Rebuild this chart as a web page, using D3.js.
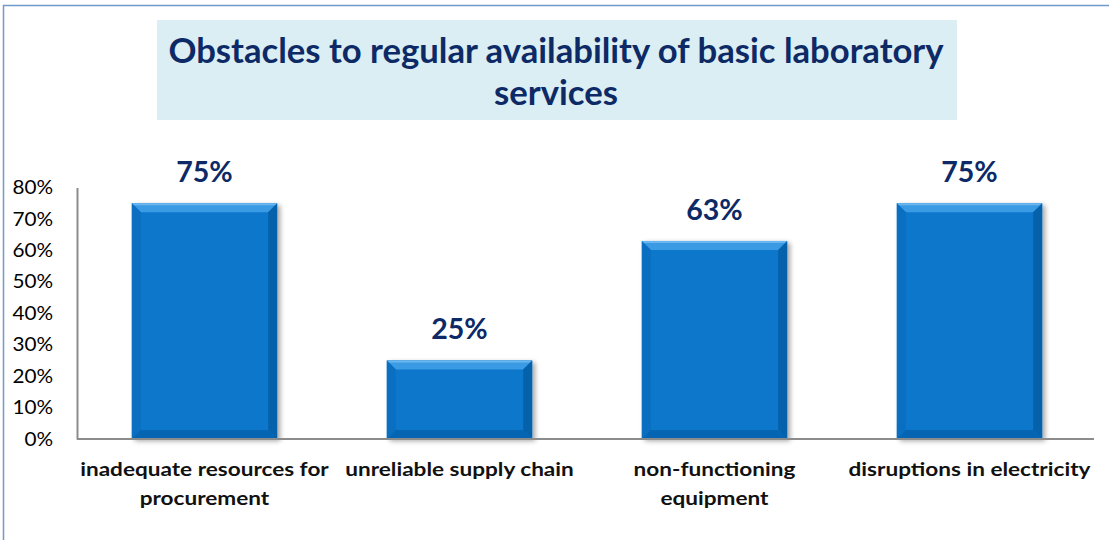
<!DOCTYPE html>
<html><head><meta charset="utf-8">
<script src="https://cdn.jsdelivr.net/npm/d3@7"></script>
<style>html,body{margin:0;padding:0;background:#fff;}svg{display:block;}</style>
</head><body>
<svg id="c" width="1109" height="540"></svg>
<script>
const categories = [["inadequate resources for","procurement"],["unreliable supply chain"],["non-functioning","equipment"],["disruptions in electricity"]];
const values = [0.75, 0.25, 0.63, 0.75];
const valueLabels = ["75%","25%","63%","75%"];
const yTicks = [0,0.1,0.2,0.3,0.4,0.5,0.6,0.7,0.8];
const titleLines = ["Obstacles to regular availability of basic laboratory","services"];

const svg = d3.select("#c");
const font = "Lato, 'Open Sans', sans-serif";
function stretch(sel, k){
  sel.each(function(){const n=this; const L=n.getComputedTextLength(); d3.select(n).attr("textLength",L*k).attr("lengthAdjust","spacingAndGlyphs");});
}
// frame
svg.append("rect").attr("x",3.5).attr("y",5.5).attr("width",1110).attr("height",540).attr("fill","#fff").attr("stroke","#7199cb").attr("stroke-width",1.5);

// title box
svg.append("rect").attr("x",157).attr("y",20).attr("width",800).attr("height",100).attr("fill","#daeef3");
const tt = svg.append("g").selectAll("text").data(titleLines).join("text")
  .attr("x",556).attr("y",(d,i)=>63+i*42).attr("text-anchor","middle")
  .attr("font-family",font).attr("font-weight","bold").attr("font-size",35).attr("fill","#0d2a66")
  .text(d=>d);
stretch(tt, 0.99);

const x0 = 77, x1 = 1097, yTop = 187.5, yBot = 439;
const x = d3.scaleBand().domain(d3.range(categories.length)).range([x0,x1]).paddingInner(0.43).paddingOuter(0.215);
const y = d3.scaleLinear().domain([0,0.8]).range([yBot,yTop]);

const defs = svg.append("defs");
const f = defs.append("filter").attr("id","sh").attr("x","-10%").attr("y","-10%").attr("width","130%").attr("height","130%");
f.append("feDropShadow").attr("dx",3).attr("dy",2).attr("stdDeviation",2.5).attr("flood-color","#000").attr("flood-opacity",0.35);

// y axis
const yAxis = d3.axisLeft(y).tickValues(yTicks).tickFormat(d3.format(".0%")).tickSize(0).tickPadding(14);
const ga = svg.append("g").attr("transform",`translate(${x0},0)`).call(yAxis);
ga.select(".domain").attr("stroke","#8c8c8c").attr("stroke-width",2);
const tl = ga.selectAll("text").attr("font-family",font).attr("font-size",19).attr("fill","#000").attr("x",-24);
stretch(tl, 1.09);

// bars
const bw = x.bandwidth();
const bars = svg.append("g").selectAll("g").data(values).join("g");
bars.append("rect").attr("x",(d,i)=>x(i)).attr("y",d=>y(d)).attr("width",bw).attr("height",d=>yBot-y(d))
  .attr("fill","#0777cc").attr("filter","url(#sh)");
const bev = 9;
bars.append("path").attr("d",(d,i)=>{const a=x(i),t=y(d);return `M${a},${t}L${a+bw},${t}L${a+bw-bev},${t+bev}L${a+bev},${t+bev}Z`;}).attr("fill","#3a9ae4");
bars.append("path").attr("d",(d,i)=>{const a=x(i),t=y(d);return `M${a},${t}L${a+bw},${t}L${a+bw-2},${t+2}L${a+2},${t+2}Z`;}).attr("fill","#6bb6ee");
bars.append("path").attr("d",(d,i)=>{const a=x(i),t=y(d);return `M${a},${t}L${a+bev},${t+bev}L${a+bev},${yBot-bev}L${a},${yBot}Z`;}).attr("fill","#0a6fc0");
bars.append("path").attr("d",(d,i)=>{const a=x(i)+bw,t=y(d);return `M${a},${t}L${a-bev},${t+bev}L${a-bev},${yBot-bev}L${a},${yBot}Z`;}).attr("fill","#0661ab");
bars.append("path").attr("d",(d,i)=>{const a=x(i);return `M${a},${yBot}L${a+bev},${yBot-bev}L${a+bw-bev},${yBot-bev}L${a+bw},${yBot}Z`;}).attr("fill","#0665b2");

// x axis line
svg.append("line").attr("x1",x0).attr("x2",1094).attr("y1",yBot).attr("y2",yBot).attr("stroke","#8c8c8c").attr("stroke-width",2);

// value labels
const vl = svg.append("g").selectAll("text").data(values).join("text")
  .attr("x",(d,i)=>x(i)+bw/2).attr("y",d=>y(d)-21).attr("text-anchor","middle")
  .attr("font-family",font).attr("font-weight","bold").attr("font-size",28).attr("fill","#0d2a66")
  .text((d,i)=>valueLabels[i]);
stretch(vl, 1.02);

// category labels
const flat = [];
categories.forEach((lines,i)=>lines.forEach((t,j)=>flat.push({i,j,t})));
const cl = svg.append("g").selectAll("text").data(flat).join("text")
  .attr("x",d=>x(d.i)+bw/2).attr("y",d=>476+d.j*29).attr("text-anchor","middle")
  .attr("font-family",font).attr("font-weight","bold").attr("font-size",18.5).attr("fill","#111")
  .text(d=>d.t);
stretch(cl, 1.22);
</script>
</body></html>
